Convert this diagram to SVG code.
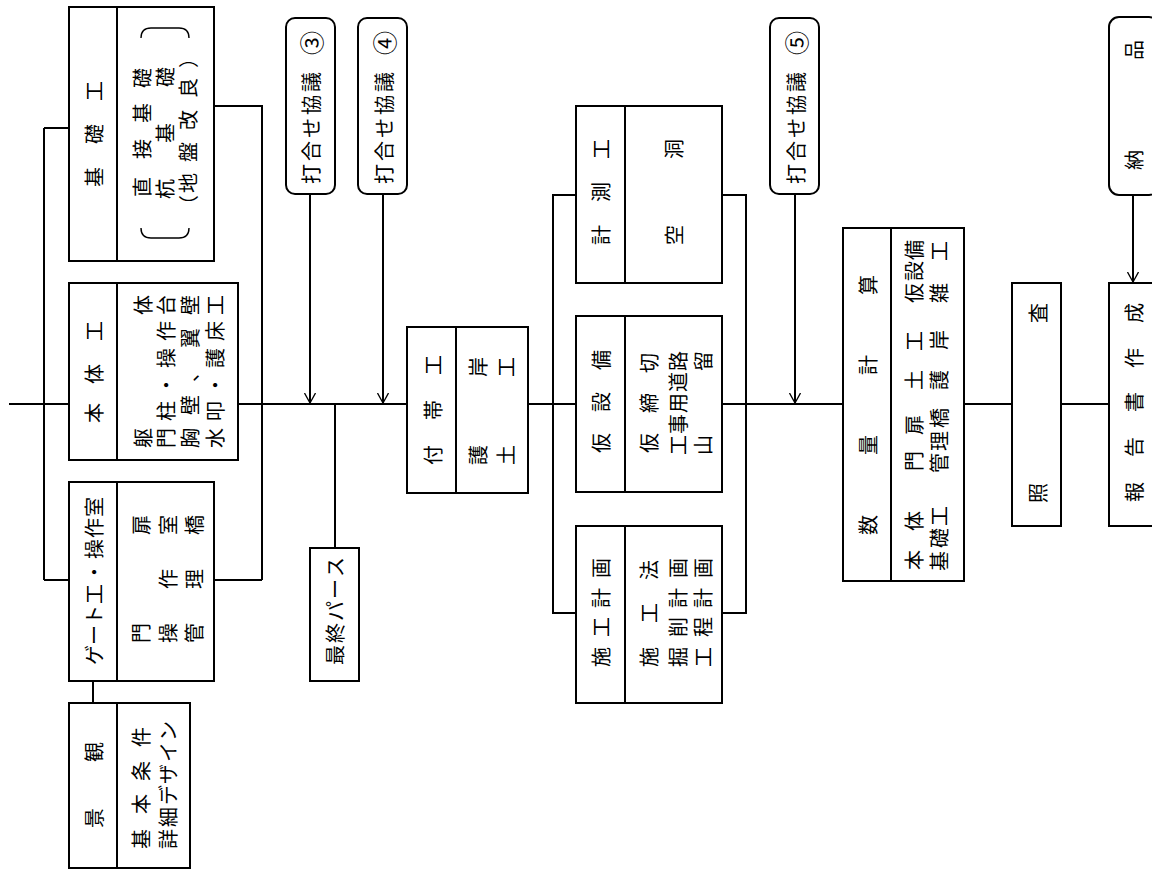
<svg xmlns="http://www.w3.org/2000/svg" width="1152" height="871" viewBox="0 0 1152 871">
<style>
.b{fill:#fff;stroke:#000;stroke-width:2}
.d{stroke:#000;stroke-width:2;fill:none}
.c{stroke:#000;stroke-width:2;fill:none}
.br{stroke:#000;stroke-width:1.4;fill:none}
text{font-family:"Noto Sans CJK JP","Noto Sans CJK SC",sans-serif;font-size:20px;text-anchor:middle;dominant-baseline:central;fill:#000}
.n{font-size:24px}
</style>
<defs>
<marker id="ah" viewBox="0 0 10 12" refX="10" refY="6" markerWidth="10" markerHeight="12" markerUnits="userSpaceOnUse" orient="auto">
<path d="M0,0.5 L10,6 L0,11.5" fill="none" stroke="#000" stroke-width="1.3"/>
</marker>
</defs>
<rect width="1152" height="871" fill="#fff"/>
<g id="connectors">
<path class="c" d="M9,404 H69"/>
<path class="c" d="M44,128 V580 M44,128 H69 M44,580 H69"/>
<path class="c" d="M214,106 H262 V580 M214,580 H262 M238,404 H407"/>
<path class="c" d="M335,404 V548"/>
<path class="c" d="M310,194 V403" marker-end="url(#ah)"/>
<path class="c" d="M383,194 V403" marker-end="url(#ah)"/>
<path class="c" d="M528,404 H576"/>
<path class="c" d="M576,195 H553 V613 H576"/>
<path class="c" d="M722,195 H746 V613 H722 M722,404 H843"/>
<path class="c" d="M795,194 V403" marker-end="url(#ah)"/>
<path class="c" d="M964,404 H1012 M1061,404 H1109"/>
<path class="c" d="M1133,195 V282" marker-end="url(#ah)"/>
<path class="c" d="M93,681 V703"/>
</g>
<g id="kiso">
<rect class="b" x="69" y="7" width="145" height="254"/>
<path class="d" d="M117,7 V261"/>
<path class="br" d="M141,38 Q141,28 151,28 H179 Q189,28 189,38"/>
<path class="br" d="M141,228 Q141,238 151,238 H179 Q189,238 189,228"/>
<g transform="rotate(-90)">
<text x="-177 -134 -91" y="93">基礎工</text>
<text x="-187 -149 -113 -78" y="141">直接基礎</text>
<text x="-189 -133 -77" y="164">杭基礎</text>
<text x="-205 -183 -152 -120 -88 -58" y="187">（地盤改良）</text>
</g>
</g>
<g id="hontai">
<rect class="b" x="69" y="283" width="169" height="177"/>
<path class="d" d="M117,283 V460"/>
<g transform="rotate(-90)">
<text x="-413 -374 -331" y="93">本体工</text>
<text x="-438 -305" y="142">躯体</text>
<text x="-438 -411 -385 -358 -331 -305" y="165">門柱・操作台</text>
<text x="-438 -405 -372 -338 -305" y="189">胸壁、翼壁</text>
<text x="-438 -411 -385 -358 -331 -305" y="214">水叩・護床工</text>
</g>
</g>
<g id="gate">
<rect class="b" x="69" y="482" width="145" height="199"/>
<path class="d" d="M117,482 V681"/>
<g transform="rotate(-90)">
<text x="-655 -635 -615 -594 -572 -549 -528 -507" y="93">ゲート工・操作室</text>
<text x="-633 -525" y="140">門扉</text>
<text x="-633 -579 -525" y="167">操作室</text>
<text x="-633 -579 -525" y="193">管理橋</text>
</g>
</g>
<g id="keikan">
<rect class="b" x="69" y="703" width="121" height="165"/>
<path class="d" d="M117,703 V868"/>
<g transform="rotate(-90)">
<text x="-818 -752" y="93">景観</text>
<text x="-839 -804 -771 -737" y="140">基本条件</text>
<text x="-839 -817 -795 -774 -752 -731" y="167">詳細デザイン</text>
</g>
</g>
<g id="uchiawase3">
<rect class="b" x="286" y="18" width="49" height="176" rx="9"/>
<g transform="rotate(-90)"><text x="-174 -151 -128 -105 -82" y="310">打合せ協議<tspan class="n" x="-43">③</tspan></text></g>
</g>
<g id="uchiawase4">
<rect class="b" x="358" y="18" width="49" height="176" rx="9"/>
<g transform="rotate(-90)"><text x="-174 -151 -128 -105 -82" y="383">打合せ協議<tspan class="n" x="-43">④</tspan></text></g>
</g>
<g id="saishu">
<rect class="b" x="310" y="548" width="49" height="133"/>
<g transform="rotate(-90)"><text x="-655 -633 -611 -589 -567" y="334">最終パース</text></g>
</g>
<g id="futai">
<rect class="b" x="407" y="327" width="121" height="166"/>
<path class="d" d="M456,327 V493"/>
<g transform="rotate(-90)">
<text x="-455 -410 -365" y="432">付帯工</text>
<text x="-455 -367" y="477">護岸</text>
<text x="-455 -367" y="505">土工</text>
</g>
</g>
<g id="keisoku">
<rect class="b" x="576" y="106" width="146" height="177"/>
<path class="d" d="M625,106 V283"/>
<g transform="rotate(-90)">
<text x="-235 -192 -149" y="600">計測工</text>
<text x="-235 -149" y="673">空洞</text>
</g>
</g>
<g id="kasetsu">
<rect class="b" x="576" y="316" width="146" height="176"/>
<path class="d" d="M625,316 V492"/>
<g transform="rotate(-90)">
<text x="-443 -402 -360" y="600">仮設備</text>
<text x="-443 -403 -363" y="648">仮締切</text>
<text x="-445 -424 -403 -382 -361" y="677">工事用道路</text>
<text x="-445 -361" y="702">山留</text>
</g>
</g>
<g id="sekou">
<rect class="b" x="576" y="526" width="146" height="177"/>
<path class="d" d="M625,526 V703"/>
<g transform="rotate(-90)">
<text x="-657 -627 -598 -568" y="600">施工計画</text>
<text x="-657 -613 -570" y="648">施工法</text>
<text x="-657 -627 -598 -568" y="677">掘削計画</text>
<text x="-657 -627 -598 -568" y="702">工程計画</text>
</g>
</g>
<g id="uchiawase5">
<rect class="b" x="770" y="18" width="49" height="176" rx="9"/>
<g transform="rotate(-90)"><text x="-174 -151 -128 -105 -82" y="795">打合せ協議<tspan class="n" x="-43">⑤</tspan></text></g>
</g>
<g id="suryo">
<rect class="b" x="843" y="228" width="121" height="353"/>
<path class="d" d="M891,228 V581"/>
<g transform="rotate(-90)">
<text x="-525 -445 -365 -285" y="867">数量計算</text>
<text x="-560 -521 -461 -425 -380 -341 -293 -271 -250" y="913">本体門扉土工仮設備</text>
<text x="-561 -538 -516 -463 -441 -418 -380 -340 -293 -251" y="938">基礎工管理橋護岸雑工</text>
</g>
</g>
<g id="shosa">
<rect class="b" x="1012" y="283" width="49" height="243"/>
<g transform="rotate(-90)"><text x="-493 -313" y="1037">照査</text></g>
</g>
<g id="hokoku">
<rect class="b" x="1109" y="283" width="50" height="243"/>
<g transform="rotate(-90)"><text x="-492 -447 -402 -358 -313" y="1133">報告書作成</text></g>
</g>
<g id="nohin">
<rect class="b" x="1109" y="17" width="50" height="178" rx="10"/>
<g transform="rotate(-90)"><text x="-160 -50" y="1133">納品</text></g>
</g>
</svg>
